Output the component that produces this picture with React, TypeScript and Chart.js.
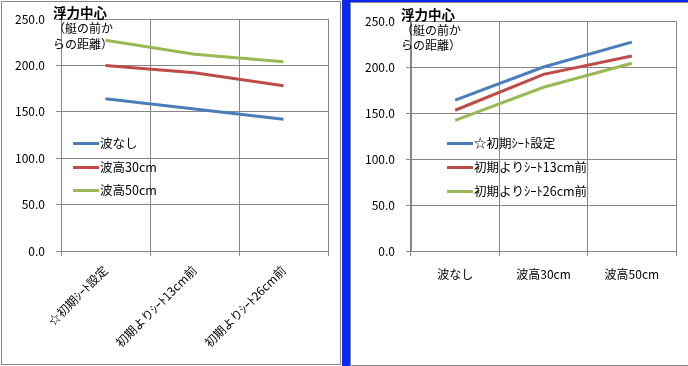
import React, { useEffect, useRef } from "react";
import { Chart, registerables } from "chart.js";

Chart.register(...registerables);

// ---- data ----
const seatConditions = ["☆初期ｼｰﾄ設定", "初期よりｼｰﾄ13cm前", "初期よりｼｰﾄ26cm前"];
const waveConditions = ["波なし", "波高30cm", "波高50cm"];

// values per seat condition across wave conditions
const initialSeat = [164, 200, 227];
const seatForward13 = [153, 192, 212];
const seatForward26 = [142, 178, 204];

// values per wave condition across seat conditions
const noWave = [164, 153, 142];
const wave30 = [200, 192, 178];
const wave50 = [227, 212, 204];

const titleLines = ["浮力中心", "（艇の前か", "らの距離）"];
const yMin = 0;
const yMax = 250;
const yStep = 50;

const seriesColors = ["#4A7EBB", "#BE4B48", "#98B954"];
const GRID = "#868686";
const FONT = '"Noto Sans CJK JP", "Noto Sans", sans-serif';

const overlayPlugin = {
  id: "overlay",
  afterDraw(chart: any) {
    const o = chart.options.plugins.overlay;
    if (!o) return;
    const ctx = chart.ctx;
    ctx.save();
    ctx.fillStyle = "#000";
    ctx.textAlign = "left";
    ctx.textBaseline = "middle";
    ctx.font = `bold 13.5px ${FONT}`;
    ctx.fillText(titleLines[0], o.titleX, o.titleY);
    ctx.font = `12px ${FONT}`;
    for (let i = 1; i < titleLines.length; i++) {
      ctx.fillText(titleLines[i], o.titleX, o.titleY + 15.5 * i);
    }
    chart.data.datasets.forEach((ds: any, i: number) => {
      const y = Math.round(o.legendY + o.legendGap * i) + 0.5;
      ctx.strokeStyle = ds.borderColor;
      ctx.lineWidth = 3;
      ctx.beginPath();
      ctx.moveTo(o.legendX, y);
      ctx.lineTo(o.legendX + 26, y);
      ctx.stroke();
      ctx.fillStyle = "#000";
      ctx.font = `12.5px ${FONT}`;
      ctx.fillText(ds.label, o.legendX + 27, y);
    });
    ctx.restore();
  },
};

type Series = { label: string; data: number[] };

function LineChart(props: {
  labels: string[];
  series: Series[];
  width: number;
  rotate: number;
  top: number;
  padRight: number;
  xHeight: number;
  labelPad: number;
  overlay: any;
}) {
  const ref = useRef<HTMLCanvasElement | null>(null);
  useEffect(() => {
    if (!ref.current) return;
    const chart = new Chart(ref.current, {
      type: "line",
      data: {
        labels: props.labels,
        datasets: props.series.map((s, i) => ({
          label: s.label,
          data: s.data,
          borderColor: seriesColors[i],
          backgroundColor: seriesColors[i],
          borderWidth: 3,
          pointRadius: 0,
          tension: 0,
          fill: false,
        })),
      },
      options: {
        animation: false,
        responsive: false,
        layout: { padding: { top: props.top, left: 0, right: props.padRight, bottom: 0 } },
        plugins: {
          legend: { display: false },
          tooltip: { enabled: false },
          title: { display: false },
          overlay: props.overlay,
        } as any,
        scales: {
          x: {
            type: "category",
            offset: true,
            grid: { offset: true, color: GRID, tickLength: 5, lineWidth: 1 },
            border: { color: GRID },
            ticks: {
              color: "#000",
              font: { family: FONT, size: 12 },
              minRotation: props.rotate,
              maxRotation: props.rotate,
              padding: props.labelPad,
              autoSkip: false,
            },
            afterFit(scale: any) {
              scale.height = props.xHeight;
              scale.paddingLeft = 0;
              scale.paddingRight = 0;
            },
          },
          y: {
            min: yMin,
            max: yMax,
            grid: { color: GRID, tickLength: 5 },
            border: { color: GRID },
            ticks: {
              stepSize: yStep,
              color: "#000",
              font: { family: FONT, size: 12 },
              padding: 11,
              callback: (v: any) => Number(v).toFixed(1),
            },
            afterFit(scale: any) {
              scale.width = 61;
              scale.paddingTop = 0;
              scale.paddingBottom = 0;
            },
          },
        },
      } as any,
      plugins: [overlayPlugin],
    });
    return () => chart.destroy();
  }, []);
  return <canvas ref={ref} width={props.width} height={366} style={{ display: "block" }} />;
}

export default function App() {
  return (
    <div
      style={{
        position: "absolute",
        left: 0,
        top: 0,
        width: 688,
        height: 366,
        background: "#fff",
        overflow: "hidden",
      }}
    >
      {/* left chart frame */}
      <div
        style={{
          position: "absolute",
          left: 1,
          top: 1,
          width: 340,
          height: 364,
          boxSizing: "border-box",
          border: `1px solid ${GRID}`,
        }}
      />
      {/* selection band */}
      <div style={{ position: "absolute", left: 342, top: 0, width: 8, height: 366, background: "#0A2AF2" }} />
      <div style={{ position: "absolute", left: 342, top: 0, width: 346, height: 2, background: "#0A2AF2" }} />
      {/* right chart frame */}
      <div
        style={{
          position: "absolute",
          left: 350,
          top: 2,
          width: 400,
          height: 364,
          boxSizing: "border-box",
          border: `1px solid ${GRID}`,
        }}
      />
      <div style={{ position: "absolute", left: 0, top: 0 }}>
        <LineChart
          labels={seatConditions}
          series={[
            { label: waveConditions[0], data: noWave },
            { label: waveConditions[1], data: wave30 },
            { label: waveConditions[2], data: wave50 },
          ]}
          width={341}
          rotate={45}
          top={19}
          padRight={13}
          xHeight={115}
          labelPad={7}
          overlay={{ titleX: 53, titleY: 13, legendX: 73, legendY: 143, legendGap: 23.5 }}
        />
      </div>
      <div style={{ position: "absolute", left: 350, top: 0 }}>
        <LineChart
          labels={waveConditions}
          series={[
            { label: seatConditions[0], data: initialSeat },
            { label: seatConditions[1], data: seatForward13 },
            { label: seatConditions[2], data: seatForward26 },
          ]}
          width={338}
          rotate={0}
          top={21}
          padRight={12}
          xHeight={115}
          labelPad={11}
          overlay={{ titleX: 51, titleY: 14.5, legendX: 97, legendY: 143, legendGap: 24 }}
        />
      </div>
    </div>
  );
}
